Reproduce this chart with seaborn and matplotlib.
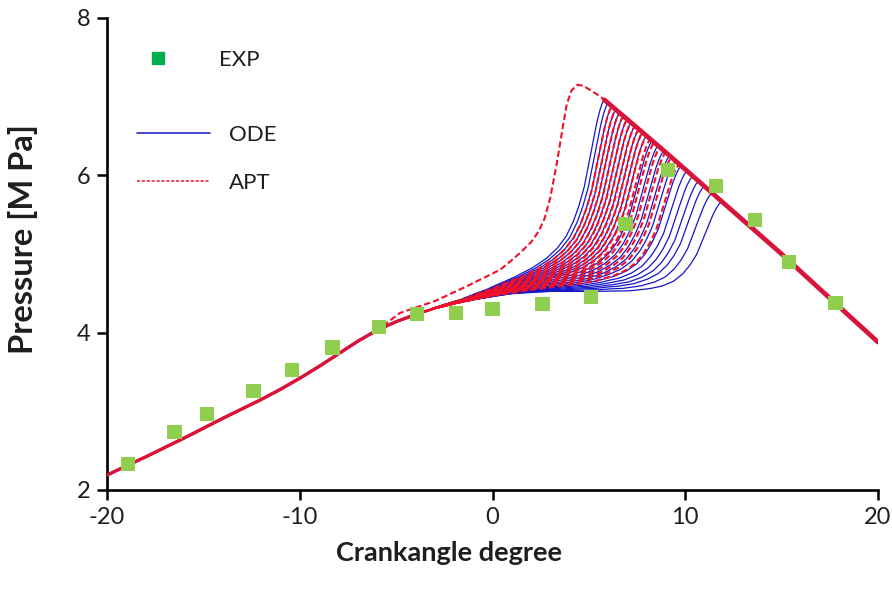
import numpy as np
import pandas as pd
import matplotlib
matplotlib.use("Agg")
import matplotlib.pyplot as plt
from matplotlib.lines import Line2D
import seaborn as sns

# Measured cylinder pressure
EXP_DEG = [-18.9, -16.5, -14.8, -12.4, -10.4, -8.3, -5.9, -3.9, -1.9, 0.0,
           2.6, 5.1, 6.9, 9.1, 11.6, 13.6, 15.4, 17.8]
EXP_MPA = [2.33, 2.74, 2.97, 3.26, 3.53, 3.81, 4.07, 4.24, 4.25, 4.30,
           4.36, 4.45, 5.38, 6.07, 5.86, 5.43, 4.90, 4.38]

# Shared compression trace (before ignition)
MOTOR_DEG = [-20, -18, -16, -14, -12, -11, -10, -9, -8, -7, -6, -5, -4, -3,
             -2, -1, 0, 1, 2, 3, 4, 5, 6, 7, 8, 9, 10, 11, 12, 13]
MOTOR_MPA = [2.19, 2.42, 2.66, 2.91, 3.15, 3.28, 3.42, 3.57, 3.73, 3.89, 4.03,
             4.14, 4.23, 4.31, 4.37, 4.42, 4.46, 4.49, 4.50, 4.50, 4.48, 4.45,
             4.42, 4.37, 4.32, 4.25, 4.18, 4.11, 4.03, 3.95]

# Shared expansion trace (after combustion)
EXPANSION_DEG = [5.8, 7, 9, 11, 13, 15, 17, 20]
EXPANSION_MPA = [6.96, 6.71, 6.29, 5.86, 5.43, 5.00, 4.55, 3.88]

# Normalised pressure-rise profile between ignition onset and merge point
RISE_T = [0, 0.2, 0.35, 0.5, 0.6, 0.68, 0.74, 0.79, 0.83, 0.86, 0.89, 0.915,
          0.94, 0.96, 0.975, 0.988, 1.0]
RISE_FRAC = [0, 0.012, 0.04, 0.085, 0.13, 0.18, 0.235, 0.3, 0.38, 0.46, 0.56,
             0.68, 0.8, 0.89, 0.945, 0.982, 1.0]

# ODE runs: ignition onset and merge angle [deg]
ODE_ONSET = [-3.6, -3.5, -3.4, -3.3, -3.2, -3.1, -3.0, -2.9, -2.8, -2.6, -2.5,
             -2.4, -2.2, -2.0, -1.8, -1.6, -1.4, -1.2, -1.0, -0.8, -0.6, -0.4,
             -0.2, 0.0]
ODE_JOIN = [5.8, 6.0, 6.2, 6.4, 6.6, 6.8, 7.0, 7.2, 7.4, 7.6, 7.8, 8.0, 8.3,
            8.6, 8.9, 9.2, 9.5, 9.8, 10.1, 10.4, 10.7, 11.0, 11.4, 11.9]

# APT runs: ignition onset and merge angle [deg]
APT_ONSET = [-3.4, -3.3, -3.2, -3.0, -2.9, -2.8, -2.6, -2.5, -2.4, -2.2, -2.1,
             -2.0, -1.8, -1.6, -1.4, -1.1]
APT_JOIN = [6.2, 6.4, 6.6, 6.8, 7.0, 7.2, 7.4, 7.6, 7.8, 8.0, 8.2, 8.4, 8.7,
            9.0, 9.3, 9.7]

# APT run with the earliest heat release
APT_LEAD_DEG = [-6, -4.8, -3, -1.5, 0.4, 1.0, 1.5, 2.0, 2.4, 2.7, 3.0, 3.3,
                3.6, 3.85, 4.1, 4.4, 4.7, 5.1, 5.6, 6.0]
APT_LEAD_MPA = [4.03, 4.25, 4.40, 4.57, 4.80, 4.92, 5.03, 5.15, 5.29, 5.45,
                5.72, 6.10, 6.55, 6.90, 7.08, 7.15, 7.14, 7.08, 7.00, 6.92]

X_TICKS = [-20, -10, 0, 10, 20]
Y_TICKS = [2, 4, 6, 8]

BLUE = "#1616C8"
RED = "#F0102A"
CRIMSON = "#D8143C"
GREEN = "#8FCE4E"
GREEN_KEY = "#00B050"
TEXT = "#1E1E1E"

sns.set_style("ticks")
plt.rcParams["font.family"] = ["Lato", "DejaVu Sans"]
plt.rcParams["axes.unicode_minus"] = False

fig, ax = plt.subplots(figsize=(8.92, 5.99), dpi=100)
fig.subplots_adjust(left=107 / 892, right=878 / 892,
                    bottom=1 - 490 / 599, top=1 - 18 / 599)

grid = np.round(np.arange(-20, 20.0001, 0.04), 3)
motor = np.interp(grid, MOTOR_DEG, MOTOR_MPA)
expansion = np.interp(grid, EXPANSION_DEG, EXPANSION_MPA)


def fired_trace(onset, join):
    p_join = np.interp(join, EXPANSION_DEG, EXPANSION_MPA)
    t = np.clip((grid - onset) / (join - onset), 0, 1)
    frac = np.interp(t, RISE_T, RISE_FRAC)
    y = motor + frac * (p_join - motor)
    return np.where(grid >= join, expansion, y)


def lead_trace():
    y = np.interp(grid, APT_LEAD_DEG, APT_LEAD_MPA)
    y = np.where(grid < APT_LEAD_DEG[0], motor, y)
    return np.where(grid > APT_LEAD_DEG[-1], expansion, y)


ode_df = pd.concat(
    [pd.DataFrame({"deg": grid, "mpa": fired_trace(o, j), "run": i})
     for i, (o, j) in enumerate(zip(ODE_ONSET, ODE_JOIN))],
    ignore_index=True)

sns.lineplot(data=ode_df, x="deg", y="mpa", units="run", estimator=None,
             color=BLUE, lw=0.9, sort=False, legend=False, ax=ax, zorder=2)

apt_traces = [fired_trace(o, j) for o, j in zip(APT_ONSET, APT_JOIN)]
apt_traces.append(lead_trace())
for k, trace in enumerate(apt_traces):
    sns.lineplot(x=grid, y=trace, color=RED, lw=1.5,
                 linestyle=((k * 0.7) % 4.5, (3.0, 1.5)),
                 sort=False, legend=False, ax=ax, zorder=3)

# Common compression and expansion branches shared by all runs
early = [i for i, d in enumerate(MOTOR_DEG) if d <= -4]
sns.lineplot(x=[MOTOR_DEG[i] for i in early], y=[MOTOR_MPA[i] for i in early],
             color=CRIMSON, lw=2.4, sort=False, legend=False, ax=ax, zorder=4)
sns.lineplot(x=EXPANSION_DEG, y=EXPANSION_MPA, color=CRIMSON, lw=3.4,
             sort=False, legend=False, ax=ax, zorder=4)

sns.scatterplot(x=EXP_DEG, y=EXP_MPA, marker="s", s=105, color=GREEN,
                edgecolor="none", legend=False, ax=ax, zorder=6)

ax.set_xlim(-20, 20)
ax.set_ylim(2, 8)
ax.set_xticks(X_TICKS)
ax.set_yticks(Y_TICKS)
ax.set_xticklabels([str(v) for v in X_TICKS])
ax.set_yticklabels([str(v) for v in Y_TICKS])
ax.tick_params(axis="both", direction="out", length=7, width=1.8,
               labelsize=17, colors="black", labelcolor=TEXT, pad=5)
sns.despine(ax=ax)
for side in ("left", "bottom"):
    ax.spines[side].set_linewidth(1.9)
    ax.spines[side].set_color("black")

ax.set_xlabel("Crankangle degree", fontsize=19.5, fontweight="bold",
              color=TEXT)
ax.set_ylabel("Pressure [M Pa]", fontsize=23.5, fontweight="bold", color=TEXT)
ax.xaxis.set_label_coords((449 - 107) / 771, (490 - 541) / 472)
ax.yaxis.set_label_coords((38 - 107) / 771, (490 - 239) / 472)

exp_key = Line2D([], [], ls="none", marker="s", ms=9, mfc=GREEN_KEY,
                 mec=GREEN_KEY)
leg1 = ax.legend([exp_key], ["EXP"], loc="upper left",
                 bbox_to_anchor=(137 / 892, 1 - 50 / 599),
                 bbox_transform=fig.transFigure, frameon=False, fontsize=16,
                 handlelength=1.9, handletextpad=1.77, borderpad=0,
                 borderaxespad=0, labelcolor=TEXT)
ax.add_artist(leg1)
ode_key = Line2D([], [], color=BLUE, lw=1.1)
apt_key = Line2D([], [], color=RED, lw=1.1, ls=(0, (2.0, 1.2)))
ax.legend([ode_key, apt_key], ["ODE", "APT"], loc="upper left",
          bbox_to_anchor=(137 / 892, 1 - 125 / 599),
          bbox_transform=fig.transFigure, frameon=False, fontsize=16,
          handlelength=3.3, handletextpad=0.83, labelspacing=1.25,
          borderpad=0, borderaxespad=0, labelcolor=TEXT)

fig.savefig("out.png", dpi=100)
